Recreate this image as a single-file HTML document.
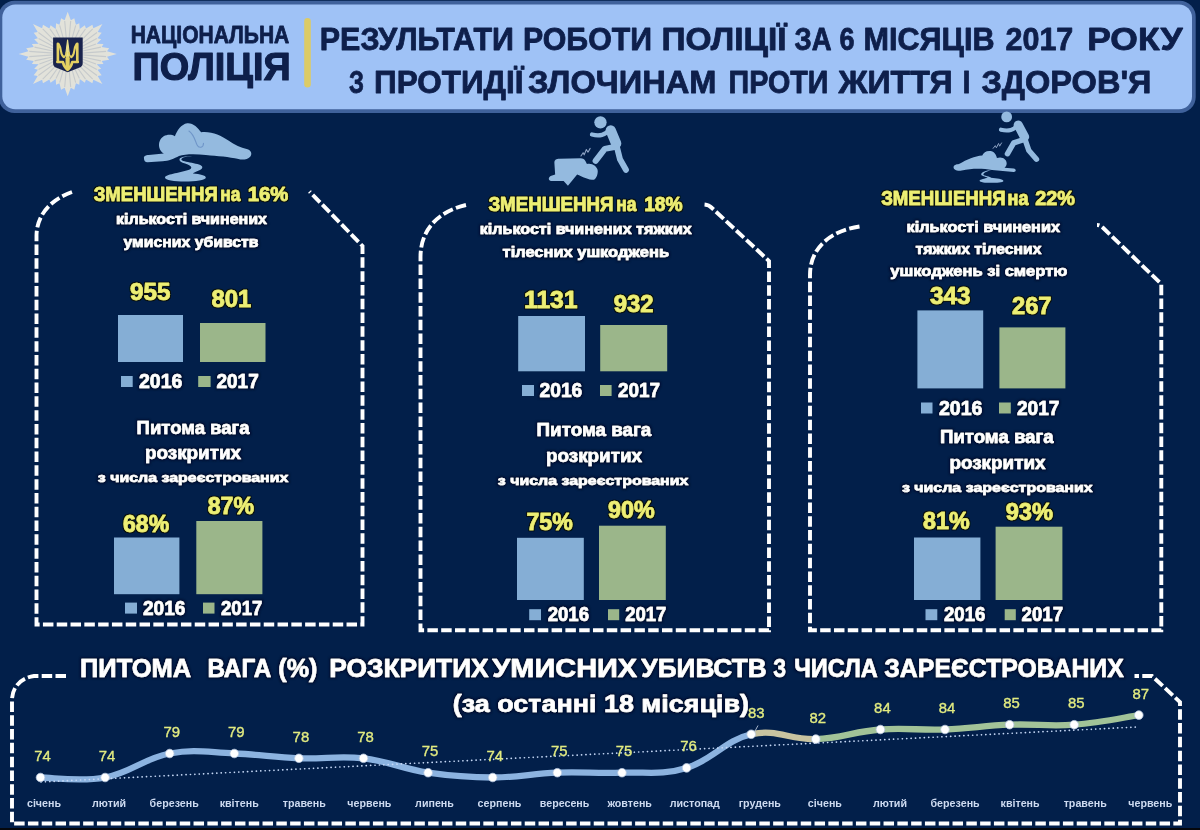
<!DOCTYPE html>
<html lang="uk"><head><meta charset="utf-8"><title>Результати роботи поліції</title>
<style>
html,body{margin:0;padding:0;background:#021f4a;}
#wrap{width:1200px;height:830px;}
body{width:1200px;height:830px;overflow:hidden;}
svg{display:block;font-family:"Liberation Sans", sans-serif;}
.sh{stroke:#fff;stroke-width:.55px;stroke-linejoin:round;filter:url(#hw)}
.shy{stroke:#edef74;stroke-width:.6px;stroke-linejoin:round;filter:url(#hy)}
.bn{stroke:#0e1f4b;stroke-width:.8px;stroke-linejoin:round}
.bn2{stroke:#0e1f4b;stroke-width:1.2px;stroke-linejoin:round}
</style></head><body>
<div id="wrap">
<svg width="1200" height="830" viewBox="0 0 1200 830">
<defs>
<filter id="hy" x="-6%" y="-25%" width="112%" height="150%"><feMorphology in="SourceAlpha" operator="dilate" radius="1.1" result="d"/><feGaussianBlur in="d" stdDeviation="0.7" result="b"/><feFlood flood-color="#0b1204" flood-opacity=".9"/><feComposite in2="b" operator="in" result="h"/><feMerge><feMergeNode in="h"/><feMergeNode in="SourceGraphic"/></feMerge></filter>
<filter id="hw" x="-6%" y="-25%" width="112%" height="150%"><feMorphology in="SourceAlpha" operator="dilate" radius="0.9" result="d"/><feGaussianBlur in="d" stdDeviation="0.8" result="b"/><feFlood flood-color="#000b22" flood-opacity=".8"/><feComposite in2="b" operator="in" result="h"/><feMerge><feMergeNode in="h"/><feMergeNode in="SourceGraphic"/></feMerge></filter>
</defs>
<rect width="1200" height="830" fill="#021f4a"/>
<g style="filter:blur(.4px)">
<rect x="-1.5" y="0.8" width="1197.2" height="112.2" rx="16" ry="16" fill="#3f619b"/>
<rect x="2.3" y="4.5" width="1189.7" height="104.8" rx="13" ry="13" fill="#9fc2f6"/>
<g id="logo">
<polygon points="67.7,11.7 70.8,20.2 74.3,18.3 75.9,24.7 79.3,23.2 79.7,29.0 84.8,25.2 86.0,28.4 92.4,24.7 93.3,28.2 102.4,24.1 97.7,32.0 101.7,32.7 97.5,38.3 101.2,39.3 96.7,43.7 103.5,44.0 101.7,47.0 109.2,48.3 107.0,51.3 116.8,54.0 107.0,56.7 109.2,59.7 101.7,61.0 103.5,64.0 96.7,64.3 101.2,68.7 97.5,69.7 101.7,75.3 97.7,76.0 102.4,83.9 93.3,79.8 92.4,83.3 86.0,79.6 84.8,82.8 79.7,79.0 79.3,84.8 75.9,83.3 74.3,89.7 70.8,87.8 67.7,96.3 64.6,87.8 61.1,89.7 59.5,83.3 56.1,84.8 55.7,79.0 50.6,82.8 49.4,79.6 43.0,83.3 42.1,79.8 33.0,83.9 37.7,76.0 33.7,75.3 37.9,69.7 34.2,68.7 38.7,64.3 31.9,64.0 33.7,61.0 26.2,59.7 28.4,56.7 18.6,54.0 28.4,51.3 26.2,48.3 33.7,47.0 31.9,44.0 38.7,43.7 34.2,39.3 37.9,38.3 33.7,32.7 37.7,32.0 33.0,24.1 42.1,28.2 43.0,24.7 49.4,28.4 50.6,25.2 55.7,29.0 56.1,23.2 59.5,24.7 61.1,18.3 64.6,20.2" fill="#e2e2da"/>
<path d="M68.8 41.9L70.7 21.0M71.0 42.2L75.7 25.4M73.1 42.8L79.4 29.6M75.0 43.7L85.5 28.9M76.8 44.8L92.7 28.8M78.4 46.1L97.0 32.5M79.7 47.7L96.8 38.6M80.7 49.4L96.0 43.9M81.4 51.2L100.9 47.1M81.7 53.1L106.1 51.4M81.7 54.9L106.1 56.6M81.4 56.8L100.9 60.9M80.7 58.6L96.0 64.1M79.7 60.3L96.8 69.4M78.4 61.9L97.0 75.5M76.8 63.2L92.7 79.2M75.0 64.3L85.5 79.1M73.1 65.2L79.4 78.4M71.0 65.8L75.7 82.6M68.8 66.1L70.7 87.0M66.6 66.1L64.7 87.0M64.4 65.8L59.7 82.6M62.3 65.2L56.0 78.4M60.4 64.3L49.9 79.1M58.6 63.2L42.7 79.2M57.0 61.9L38.4 75.5M55.7 60.3L38.6 69.4M54.7 58.6L39.4 64.1M54.0 56.8L34.5 60.9M53.7 54.9L29.3 56.6M53.7 53.1L29.3 51.4M54.0 51.2L34.5 47.1M54.7 49.4L39.4 43.9M55.7 47.7L38.6 38.6M57.0 46.1L38.4 32.5M58.6 44.8L42.7 28.8M60.4 43.7L49.9 28.9M62.3 42.8L56.0 29.6M64.4 42.2L59.7 25.4M66.6 41.9L64.7 21.0" stroke="#c6cacc" stroke-width="1.1" fill="none"/>
<path d="M53.1 37.5 H82.7 V63.5 C82.7 66 81 67 79 67.8 L67.7 72.3 L56.5 67.8 C54.5 67 53.1 66 53.1 63.5 Z" fill="#19234d"/>
<g transform="translate(45,30) scale(0.06024)" fill="none" stroke="#e4d062" stroke-linecap="round" stroke-linejoin="round">
<path d="M214 228 V525 M536 228 V525" stroke-width="44"/>
<path d="M228 235 C285 320 245 410 312 452 M522 235 C465 320 505 410 438 452" stroke-width="34"/>
<path d="M375 165 L402 380 L392 470 L358 470 L348 380 Z" fill="#ece08a" stroke="#ece08a" stroke-width="18"/>
<path d="M205 532 H298 C306 590 338 630 375 662 C412 630 444 590 452 532 H545" stroke-width="42"/>
<path d="M375 470 V640" stroke-width="70"/>
<path d="M312 452 C335 440 350 410 356 375 M438 452 C415 440 400 410 394 375" stroke-width="26"/>
</g>
</g>
<text x="130.7" y="42.7" font-size="23.3" font-weight="bold" fill="#0e1f4b" textLength="158.6" lengthAdjust="spacingAndGlyphs" class="bn">НАЦІОНАЛЬНА</text>
<text x="132.5" y="80" font-size="38.8" font-weight="bold" fill="#0e1f4b" textLength="158.2" lengthAdjust="spacingAndGlyphs" class="bn2">ПОЛІЦІЯ</text>
<rect x="304.2" y="18" width="6.6" height="69.5" rx="3.3" fill="#dccb66"/>
<text x="319.8" y="49.8" font-size="31.2" font-weight="bold" fill="#0e1f4b" textLength="194.2" lengthAdjust="spacingAndGlyphs" class="bn">РЕЗУЛЬТАТИ</text>
<text x="523.0" y="49.8" font-size="31.2" font-weight="bold" fill="#0e1f4b" textLength="129.0" lengthAdjust="spacingAndGlyphs" class="bn">РОБОТИ</text>
<text x="661.5" y="49.8" font-size="31.2" font-weight="bold" fill="#0e1f4b" textLength="125.0" lengthAdjust="spacingAndGlyphs" class="bn">ПОЛІЦІЇ</text>
<text x="794.5" y="49.8" font-size="31.2" font-weight="bold" fill="#0e1f4b" textLength="37.0" lengthAdjust="spacingAndGlyphs" class="bn">ЗА</text>
<text x="839.5" y="49.8" font-size="31.2" font-weight="bold" fill="#0e1f4b" textLength="15.0" lengthAdjust="spacingAndGlyphs" class="bn">6</text>
<text x="863.5" y="49.8" font-size="31.2" font-weight="bold" fill="#0e1f4b" textLength="131.0" lengthAdjust="spacingAndGlyphs" class="bn">МІСЯЦІВ</text>
<text x="1005.5" y="49.8" font-size="31.2" font-weight="bold" fill="#0e1f4b" textLength="67.8" lengthAdjust="spacingAndGlyphs" class="bn">2017</text>
<text x="1087.2" y="49.8" font-size="31.2" font-weight="bold" fill="#0e1f4b" textLength="95.3" lengthAdjust="spacingAndGlyphs" class="bn">РОКУ</text>
<text x="349.0" y="93" font-size="31.2" font-weight="bold" fill="#0e1f4b" textLength="15.0" lengthAdjust="spacingAndGlyphs" class="bn">З</text>
<text x="374.1" y="93" font-size="31.2" font-weight="bold" fill="#0e1f4b" textLength="149.3" lengthAdjust="spacingAndGlyphs" class="bn">ПРОТИДІЇ</text>
<text x="527.9" y="93" font-size="31.2" font-weight="bold" fill="#0e1f4b" textLength="188.6" lengthAdjust="spacingAndGlyphs" class="bn">ЗЛОЧИНАМ</text>
<text x="728.5" y="93" font-size="31.2" font-weight="bold" fill="#0e1f4b" textLength="100.0" lengthAdjust="spacingAndGlyphs" class="bn">ПРОТИ</text>
<text x="838.5" y="93" font-size="31.2" font-weight="bold" fill="#0e1f4b" textLength="114.0" lengthAdjust="spacingAndGlyphs" class="bn">ЖИТТЯ</text>
<text x="962.5" y="93" font-size="31.2" font-weight="bold" fill="#0e1f4b" textLength="8.0" lengthAdjust="spacingAndGlyphs" class="bn">І</text>
<text x="981.5" y="93" font-size="31.2" font-weight="bold" fill="#0e1f4b" textLength="170.0" lengthAdjust="spacingAndGlyphs" class="bn">ЗДОРОВ'Я</text>
<path d="M72 192 C52 199 36.5 214 36.5 236 V624.5 H362.5 V246 L309.5 191.5" fill="none" stroke="#fff" stroke-width="3.9" stroke-dasharray="10.5 3.3"/>
<path d="M466 205 C440 211 420.5 228 420.5 257 V630.3 H769 V261 L712 208 C709 205 706 204.5 703 204.5" fill="none" stroke="#fff" stroke-width="3.9" stroke-dasharray="10.5 3.3"/>
<path d="M859.5 226.5 C830 231 810 248 810 275 V630.3 H1161.3 V284 L1103 227.8 C1101 226 1099.5 225 1097 225" fill="none" stroke="#fff" stroke-width="3.9" stroke-dasharray="10.5 3.3"/>
<path d="M66 676 H34 C20 678 12 688 12 700 V823.5 H1180 V702 L1152 676 H1134.5" fill="none" stroke="#fff" stroke-width="3.9" stroke-dasharray="10.5 3.3"/>
<g transform="translate(130,110) scale(0.11667)" fill="#94badf">
<path d="M120 415 C115 395 135 385 160 385 L290 372 C250 350 240 300 255 265 C275 215 340 200 385 225 C400 180 440 120 490 113 C540 108 580 150 610 190 C700 180 780 220 840 260 C900 300 950 325 1000 335 C1040 345 1050 380 1030 400 C1010 425 960 430 930 420 C850 400 750 395 650 385 C560 375 470 375 420 395 C380 415 330 440 280 440 L150 447 C130 447 120 435 120 415 Z"/>
<path d="M505 180 C550 210 560 270 575 300 C590 330 630 325 630 285" fill="none" stroke="#6f95c8" stroke-width="9" stroke-linecap="round"/>
<path d="M555 395 C500 395 440 405 440 425 C440 450 620 455 620 490 C620 520 540 530 540 545 C600 550 650 560 650 580 C650 600 560 612 470 612 C380 612 300 600 300 578 C300 555 420 540 500 515 C540 500 530 480 490 465 C440 450 420 440 425 420 C430 400 500 392 555 395 Z"/>
</g>
<g transform="translate(530,105) scale(0.1084)" fill="#94badf" stroke="#94badf" stroke-linecap="round" stroke-linejoin="round">
<circle cx="650" cy="160" r="57" stroke="none"/>
<path d="M745 235 L795 355" stroke-width="95" fill="none"/>
<path d="M725 235 C700 275 640 290 572 272" stroke-width="40" fill="none"/>
<path d="M790 385 L690 405 L605 515" stroke-width="55" fill="none"/>
<path d="M800 380 L830 500 L885 598" stroke-width="55" fill="none"/>
<path d="M225 535 C225 505 245 497 270 497 L470 492 C500 492 515 520 525 545 C560 530 625 560 625 610 C625 650 610 680 590 690 C540 690 480 660 435 640 L350 745 L310 700 L195 700 C170 700 165 670 190 655 L232 640 Z" stroke="none"/>
<path d="M470 470 L490 440 L500 460 L520 410 L535 435 L555 400" stroke="#8ea3c4" stroke-width="10" fill="none"/>
</g>
<g transform="translate(940,105) scale(0.1084)" fill="#94badf" stroke="#94badf" stroke-linecap="round" stroke-linejoin="round">
<circle cx="615" cy="110" r="50" stroke="none"/>
<path d="M722 185 L780 295" stroke-width="85" fill="none"/>
<path d="M705 190 C690 230 630 245 562 228" stroke-width="38" fill="none"/>
<path d="M770 320 L680 350 L622 450" stroke-width="50" fill="none"/>
<path d="M785 320 L820 420 L890 500" stroke-width="50" fill="none"/>
<path d="M125 575 C125 555 150 548 175 545 C250 500 320 470 390 465 C400 440 430 420 465 425 C500 430 520 460 525 490 C570 470 620 500 615 545 C612 560 605 572 595 580 L680 585 C705 588 705 615 680 618 L480 600 C400 585 300 580 200 605 C160 612 125 600 125 575 Z" stroke="none"/>
<path d="M470 600 C440 610 400 625 400 640 C400 655 470 655 470 672 C520 675 585 685 585 700 C585 715 520 718 470 718 C420 718 365 712 365 698 C365 685 420 680 440 668 C420 660 380 655 380 638 C380 620 430 605 470 600 Z" stroke="none"/>
<path d="M490 400 L510 375 L520 395 L540 355 L550 380 L568 350" stroke="#8ea3c4" stroke-width="9" fill="none"/>
</g>
<text x="93.7" y="201" font-size="20" font-weight="bold" fill="#edef74" textLength="124.1" lengthAdjust="spacingAndGlyphs" class="shy">ЗМЕНШЕННЯ</text>
<text x="220.2" y="201" font-size="20" font-weight="bold" fill="#edef74" textLength="20.1" lengthAdjust="spacingAndGlyphs" class="shy">на</text>
<text x="247.7" y="201" font-size="20" font-weight="bold" fill="#edef74" textLength="40.6" lengthAdjust="spacingAndGlyphs" class="shy">16%</text>
<text x="116" y="224" font-size="14.2" font-weight="bold" fill="#fff" textLength="151" lengthAdjust="spacingAndGlyphs" class="sh">кількості вчинених</text>
<text x="123.5" y="246.5" font-size="14.2" font-weight="bold" fill="#fff" textLength="135.0" lengthAdjust="spacingAndGlyphs" class="sh">умисних убивств</text>
<text x="130" y="300.2" font-size="24.6" font-weight="bold" fill="#edef74" textLength="40.4" lengthAdjust="spacingAndGlyphs" class="shy">955</text>
<text x="211.6" y="307" font-size="24.6" font-weight="bold" fill="#edef74" textLength="39.8" lengthAdjust="spacingAndGlyphs" class="shy">801</text>
<rect x="118" y="315" width="65" height="47" fill="#85aed5"/>
<rect x="200" y="323" width="65.5" height="39" fill="#9bb68a"/>
<rect x="121" y="376" width="11.7" height="11" fill="#85aed5"/>
<text x="139" y="388" font-size="19.3" font-weight="bold" fill="#fff" textLength="43.3" lengthAdjust="spacingAndGlyphs" class="sh">2016</text>
<rect x="198.2" y="376" width="12.4" height="11" fill="#9bb68a"/>
<text x="216.5" y="388" font-size="19.3" font-weight="bold" fill="#fff" textLength="42.2" lengthAdjust="spacingAndGlyphs" class="sh">2017</text>
<text x="136.6" y="434" font-size="17.9" font-weight="bold" fill="#fff" textLength="113.0" lengthAdjust="spacingAndGlyphs" class="sh">Питома вага</text>
<text x="145" y="459.3" font-size="17.9" font-weight="bold" fill="#fff" textLength="96" lengthAdjust="spacingAndGlyphs" class="sh">розкритих</text>
<text x="97.8" y="481.9" font-size="13.3" font-weight="bold" fill="#fff" textLength="190.6" lengthAdjust="spacingAndGlyphs" class="sh">з числа зареєстрованих</text>
<text x="123" y="532.4" font-size="24.6" font-weight="bold" fill="#edef74" textLength="46.2" lengthAdjust="spacingAndGlyphs" class="shy">68%</text>
<text x="207.7" y="514" font-size="24.6" font-weight="bold" fill="#edef74" textLength="46.3" lengthAdjust="spacingAndGlyphs" class="shy">87%</text>
<rect x="114" y="537.5" width="65.4" height="56.7" fill="#85aed5"/>
<rect x="196.3" y="521" width="66.1" height="73.2" fill="#9bb68a"/>
<rect x="125" y="602.6" width="12" height="11.0" fill="#85aed5"/>
<text x="143" y="614.6" font-size="19.3" font-weight="bold" fill="#fff" textLength="42.3" lengthAdjust="spacingAndGlyphs" class="sh">2016</text>
<rect x="203" y="602.6" width="11.5" height="11.0" fill="#9bb68a"/>
<text x="221" y="614.6" font-size="19.3" font-weight="bold" fill="#fff" textLength="41.3" lengthAdjust="spacingAndGlyphs" class="sh">2017</text>
<text x="488.4" y="211" font-size="20" font-weight="bold" fill="#edef74" textLength="125.0" lengthAdjust="spacingAndGlyphs" class="shy">ЗМЕНШЕННЯ</text>
<text x="616.2" y="211" font-size="20" font-weight="bold" fill="#edef74" textLength="20.2" lengthAdjust="spacingAndGlyphs" class="shy">на</text>
<text x="644.2" y="211" font-size="20" font-weight="bold" fill="#edef74" textLength="38.4" lengthAdjust="spacingAndGlyphs" class="shy">18%</text>
<text x="479.7" y="233.8" font-size="14.2" font-weight="bold" fill="#fff" textLength="212.1" lengthAdjust="spacingAndGlyphs" class="sh">кількості вчинених тяжких</text>
<text x="502.6" y="256.5" font-size="14.2" font-weight="bold" fill="#fff" textLength="166.4" lengthAdjust="spacingAndGlyphs" class="sh">тілесних ушкоджень</text>
<text x="524" y="307.8" font-size="24.6" font-weight="bold" fill="#edef74" textLength="53.6" lengthAdjust="spacingAndGlyphs" class="shy">1131</text>
<text x="613.7" y="311.9" font-size="24.6" font-weight="bold" fill="#edef74" textLength="39.9" lengthAdjust="spacingAndGlyphs" class="shy">932</text>
<rect x="518.2" y="316" width="66.8" height="55.3" fill="#85aed5"/>
<rect x="600.2" y="325" width="67.0" height="46.3" fill="#9bb68a"/>
<rect x="522" y="385" width="12" height="11" fill="#85aed5"/>
<text x="539.6" y="397" font-size="19.3" font-weight="bold" fill="#fff" textLength="42.7" lengthAdjust="spacingAndGlyphs" class="sh">2016</text>
<rect x="600" y="385" width="11.6" height="11" fill="#9bb68a"/>
<text x="618" y="397" font-size="19.3" font-weight="bold" fill="#fff" textLength="42" lengthAdjust="spacingAndGlyphs" class="sh">2017</text>
<text x="536.6" y="435.9" font-size="17.9" font-weight="bold" fill="#fff" textLength="114.7" lengthAdjust="spacingAndGlyphs" class="sh">Питома вага</text>
<text x="546" y="462.2" font-size="17.9" font-weight="bold" fill="#fff" textLength="96" lengthAdjust="spacingAndGlyphs" class="sh">розкритих</text>
<text x="497.8" y="485.2" font-size="13.3" font-weight="bold" fill="#fff" textLength="190.6" lengthAdjust="spacingAndGlyphs" class="sh">з числа зареєстрованих</text>
<text x="526.5" y="530" font-size="24.6" font-weight="bold" fill="#edef74" textLength="46.2" lengthAdjust="spacingAndGlyphs" class="shy">75%</text>
<text x="608" y="518.3" font-size="24.6" font-weight="bold" fill="#edef74" textLength="46.6" lengthAdjust="spacingAndGlyphs" class="shy">90%</text>
<rect x="517" y="537.8" width="66.8" height="62.2" fill="#85aed5"/>
<rect x="599" y="525.7" width="66.8" height="74.3" fill="#9bb68a"/>
<rect x="529.2" y="609.2" width="11.8" height="11.0" fill="#85aed5"/>
<text x="547.7" y="621.2" font-size="19.3" font-weight="bold" fill="#fff" textLength="41.3" lengthAdjust="spacingAndGlyphs" class="sh">2016</text>
<rect x="608" y="609.2" width="11.2" height="11.0" fill="#9bb68a"/>
<text x="625.3" y="621.2" font-size="19.3" font-weight="bold" fill="#fff" textLength="41.1" lengthAdjust="spacingAndGlyphs" class="sh">2017</text>
<text x="881.2" y="204.8" font-size="20" font-weight="bold" fill="#edef74" textLength="124.4" lengthAdjust="spacingAndGlyphs" class="shy">ЗМЕНШЕННЯ</text>
<text x="1007.6" y="204.8" font-size="20" font-weight="bold" fill="#edef74" textLength="20.9" lengthAdjust="spacingAndGlyphs" class="shy">на</text>
<text x="1035.2" y="204.8" font-size="20" font-weight="bold" fill="#edef74" textLength="39.6" lengthAdjust="spacingAndGlyphs" class="shy">22%</text>
<text x="906.6" y="231.9" font-size="14.2" font-weight="bold" fill="#fff" textLength="153.4" lengthAdjust="spacingAndGlyphs" class="sh">кількості вчинених</text>
<text x="915.6" y="254.3" font-size="14.2" font-weight="bold" fill="#fff" textLength="125.8" lengthAdjust="spacingAndGlyphs" class="sh">тяжких тілесних</text>
<text x="890.3" y="276" font-size="14.2" font-weight="bold" fill="#fff" textLength="177.1" lengthAdjust="spacingAndGlyphs" class="sh">ушкоджень зі смертю</text>
<text x="930" y="304.2" font-size="24.6" font-weight="bold" fill="#edef74" textLength="40.5" lengthAdjust="spacingAndGlyphs" class="shy">343</text>
<text x="1012" y="313.8" font-size="24.6" font-weight="bold" fill="#edef74" textLength="39.5" lengthAdjust="spacingAndGlyphs" class="shy">267</text>
<rect x="917.4" y="310.4" width="65.8" height="78.0" fill="#85aed5"/>
<rect x="999.4" y="327.4" width="66.0" height="61.0" fill="#9bb68a"/>
<rect x="921" y="402.5" width="11.5" height="11.0" fill="#85aed5"/>
<text x="939" y="414.5" font-size="19.3" font-weight="bold" fill="#fff" textLength="43.5" lengthAdjust="spacingAndGlyphs" class="sh">2016</text>
<rect x="999" y="402.5" width="11.8" height="11.0" fill="#9bb68a"/>
<text x="1017" y="414.5" font-size="19.3" font-weight="bold" fill="#fff" textLength="42.5" lengthAdjust="spacingAndGlyphs" class="sh">2017</text>
<text x="940" y="443.4" font-size="17.9" font-weight="bold" fill="#fff" textLength="113.6" lengthAdjust="spacingAndGlyphs" class="sh">Питома вага</text>
<text x="949.4" y="469.4" font-size="17.9" font-weight="bold" fill="#fff" textLength="96.1" lengthAdjust="spacingAndGlyphs" class="sh">розкритих</text>
<text x="901.9" y="492.3" font-size="13.3" font-weight="bold" fill="#fff" textLength="190.8" lengthAdjust="spacingAndGlyphs" class="sh">з числа зареєстрованих</text>
<text x="923" y="529.4" font-size="24.6" font-weight="bold" fill="#edef74" textLength="46.6" lengthAdjust="spacingAndGlyphs" class="shy">81%</text>
<text x="1005.7" y="520.3" font-size="24.6" font-weight="bold" fill="#edef74" textLength="47.3" lengthAdjust="spacingAndGlyphs" class="shy">93%</text>
<rect x="914" y="537.5" width="66.4" height="62.5" fill="#85aed5"/>
<rect x="995.6" y="526.7" width="66.8" height="73.3" fill="#9bb68a"/>
<rect x="925.5" y="609.2" width="11.8" height="11.0" fill="#85aed5"/>
<text x="944" y="621.2" font-size="19.3" font-weight="bold" fill="#fff" textLength="41.5" lengthAdjust="spacingAndGlyphs" class="sh">2016</text>
<rect x="1004.7" y="609.2" width="11.1" height="11.0" fill="#9bb68a"/>
<text x="1021.6" y="621.2" font-size="19.3" font-weight="bold" fill="#fff" textLength="41.4" lengthAdjust="spacingAndGlyphs" class="sh">2017</text>
<text x="80.0" y="677" font-size="25.6" font-weight="bold" fill="#fff" textLength="111.2" lengthAdjust="spacingAndGlyphs" class="sh">ПИТОМА</text>
<text x="207.5" y="677" font-size="25.6" font-weight="bold" fill="#fff" textLength="63.7" lengthAdjust="spacingAndGlyphs" class="sh">ВАГА</text>
<text x="278.3" y="677" font-size="25.6" font-weight="bold" fill="#fff" textLength="39.2" lengthAdjust="spacingAndGlyphs" class="sh">(%)</text>
<text x="329.3" y="677" font-size="25.6" font-weight="bold" fill="#fff" textLength="159.4" lengthAdjust="spacingAndGlyphs" class="sh">РОЗКРИТИХ</text>
<text x="492.3" y="677" font-size="25.6" font-weight="bold" fill="#fff" textLength="144.9" lengthAdjust="spacingAndGlyphs" class="sh">УМИСНИХ</text>
<text x="641.3" y="677" font-size="25.6" font-weight="bold" fill="#fff" textLength="125.4" lengthAdjust="spacingAndGlyphs" class="sh">УБИВСТВ</text>
<text x="773.3" y="677" font-size="25.6" font-weight="bold" fill="#fff" textLength="12.9" lengthAdjust="spacingAndGlyphs" class="sh">З</text>
<text x="794.3" y="677" font-size="25.6" font-weight="bold" fill="#fff" textLength="83.4" lengthAdjust="spacingAndGlyphs" class="sh">ЧИСЛА</text>
<text x="884.3" y="677" font-size="25.6" font-weight="bold" fill="#fff" textLength="239.5" lengthAdjust="spacingAndGlyphs" class="sh">ЗАРЕЄСТРОВАНИХ</text>
<text x="452.8" y="711.7" font-size="24.6" font-weight="bold" fill="#fff" textLength="296.2" lengthAdjust="spacingAndGlyphs" class="sh">(за останні 18 місяців)</text>
<path d="M40.5 777.5 C53.4 777.5 79.3 782.3 105.1 777.5 C130.9 772.7 143.9 758.3 169.7 753.5 C195.6 748.7 208.5 752.5 234.3 753.5 C260.2 754.5 273.1 757.3 298.9 758.3 C324.8 759.3 337.7 755.4 363.5 758.3 C389.4 761.2 402.3 768.9 428.1 772.7 C454.0 776.5 466.9 777.5 492.7 777.5 C518.6 777.5 531.5 773.7 557.3 772.7 C583.2 771.7 596.1 773.7 622.0 772.7 C647.8 771.7 660.7 775.6 686.6 767.9 C712.4 760.2 725.3 740.1 751.2 734.3" fill="none" stroke="#8cb3e0" stroke-width="6.3" stroke-linecap="round"/>
<path d="M751.2 734.3 C777.0 728.5 789.9 740.1 815.8 739.1" fill="none" stroke="#c8c3a0" stroke-width="6.3" stroke-linecap="round"/>
<path d="M815.8 739.1 C841.6 738.1 854.5 731.4 880.4 729.5 C906.2 727.6 919.1 730.5 945.0 729.5 C970.8 728.5 983.7 725.7 1009.6 724.7 C1035.4 723.7 1048.4 726.6 1074.2 724.7 C1100.0 722.8 1125.9 717.0 1138.8 715.1" fill="none" stroke="#a2c398" stroke-width="6.3" stroke-linecap="round"/>
<path d="M41 782 L1137 727" stroke="#c6d8f6" stroke-width="1.7" stroke-dasharray="0.1 4.3" stroke-linecap="round" fill="none"/>
<circle cx="40.5" cy="777.5" r="4.3" fill="#fff" stroke="#b8c8e0" stroke-width="0.8"/>
<circle cx="105.1" cy="777.5" r="4.3" fill="#fff" stroke="#b8c8e0" stroke-width="0.8"/>
<circle cx="169.7" cy="753.5" r="4.3" fill="#fff" stroke="#b8c8e0" stroke-width="0.8"/>
<circle cx="234.3" cy="753.5" r="4.3" fill="#fff" stroke="#b8c8e0" stroke-width="0.8"/>
<circle cx="298.9" cy="758.3" r="4.3" fill="#fff" stroke="#b8c8e0" stroke-width="0.8"/>
<circle cx="363.5" cy="758.3" r="4.3" fill="#fff" stroke="#b8c8e0" stroke-width="0.8"/>
<circle cx="428.1" cy="772.7" r="4.3" fill="#fff" stroke="#b8c8e0" stroke-width="0.8"/>
<circle cx="492.7" cy="777.5" r="4.3" fill="#fff" stroke="#b8c8e0" stroke-width="0.8"/>
<circle cx="557.3" cy="772.7" r="4.3" fill="#fff" stroke="#b8c8e0" stroke-width="0.8"/>
<circle cx="622.0" cy="772.7" r="4.3" fill="#fff" stroke="#b8c8e0" stroke-width="0.8"/>
<circle cx="686.6" cy="767.9" r="4.3" fill="#fff" stroke="#b8c8e0" stroke-width="0.8"/>
<circle cx="751.2" cy="734.3" r="4.3" fill="#fff" stroke="#b8c8e0" stroke-width="0.8"/>
<circle cx="815.8" cy="739.1" r="4.3" fill="#fff" stroke="#b8c8e0" stroke-width="0.8"/>
<circle cx="880.4" cy="729.5" r="4.3" fill="#fff" stroke="#b8c8e0" stroke-width="0.8"/>
<circle cx="945.0" cy="729.5" r="4.3" fill="#fff" stroke="#b8c8e0" stroke-width="0.8"/>
<circle cx="1009.6" cy="724.7" r="4.3" fill="#fff" stroke="#b8c8e0" stroke-width="0.8"/>
<circle cx="1074.2" cy="724.7" r="4.3" fill="#fff" stroke="#b8c8e0" stroke-width="0.8"/>
<circle cx="1138.8" cy="715.1" r="4.3" fill="#fff" stroke="#b8c8e0" stroke-width="0.8"/>
<path d="M758 725.5 L754.5 732" stroke="#b8c4d8" stroke-width="0.9" fill="none"/>
<text x="42.5" y="761.0" font-size="14.9" font-weight="normal" fill="#e2eb80" text-anchor="middle" stroke="#e2eb80" stroke-width=".35">74</text>
<text x="44.0" y="806.8" font-size="10.7" font-weight="bold" fill="#cddaf0" text-anchor="middle">січень</text>
<text x="107.1" y="761.0" font-size="14.9" font-weight="normal" fill="#e2eb80" text-anchor="middle" stroke="#e2eb80" stroke-width=".35">74</text>
<text x="109.1" y="806.8" font-size="10.7" font-weight="bold" fill="#cddaf0" text-anchor="middle">лютий</text>
<text x="171.7" y="737.0" font-size="14.9" font-weight="normal" fill="#e2eb80" text-anchor="middle" stroke="#e2eb80" stroke-width=".35">79</text>
<text x="174.2" y="806.8" font-size="10.7" font-weight="bold" fill="#cddaf0" text-anchor="middle">березень</text>
<text x="236.3" y="737.0" font-size="14.9" font-weight="normal" fill="#e2eb80" text-anchor="middle" stroke="#e2eb80" stroke-width=".35">79</text>
<text x="239.2" y="806.8" font-size="10.7" font-weight="bold" fill="#cddaf0" text-anchor="middle">квітень</text>
<text x="300.9" y="741.8" font-size="14.9" font-weight="normal" fill="#e2eb80" text-anchor="middle" stroke="#e2eb80" stroke-width=".35">78</text>
<text x="304.3" y="806.8" font-size="10.7" font-weight="bold" fill="#cddaf0" text-anchor="middle">травень</text>
<text x="365.5" y="741.8" font-size="14.9" font-weight="normal" fill="#e2eb80" text-anchor="middle" stroke="#e2eb80" stroke-width=".35">78</text>
<text x="369.4" y="806.8" font-size="10.7" font-weight="bold" fill="#cddaf0" text-anchor="middle">червень</text>
<text x="430.1" y="756.2" font-size="14.9" font-weight="normal" fill="#e2eb80" text-anchor="middle" stroke="#e2eb80" stroke-width=".35">75</text>
<text x="434.5" y="806.8" font-size="10.7" font-weight="bold" fill="#cddaf0" text-anchor="middle">липень</text>
<text x="494.7" y="761.0" font-size="14.9" font-weight="normal" fill="#e2eb80" text-anchor="middle" stroke="#e2eb80" stroke-width=".35">74</text>
<text x="499.5" y="806.8" font-size="10.7" font-weight="bold" fill="#cddaf0" text-anchor="middle">серпень</text>
<text x="559.3" y="756.2" font-size="14.9" font-weight="normal" fill="#e2eb80" text-anchor="middle" stroke="#e2eb80" stroke-width=".35">75</text>
<text x="564.6" y="806.8" font-size="10.7" font-weight="bold" fill="#cddaf0" text-anchor="middle">вересень</text>
<text x="624.0" y="756.2" font-size="14.9" font-weight="normal" fill="#e2eb80" text-anchor="middle" stroke="#e2eb80" stroke-width=".35">75</text>
<text x="629.7" y="806.8" font-size="10.7" font-weight="bold" fill="#cddaf0" text-anchor="middle">жовтень</text>
<text x="688.6" y="751.4" font-size="14.9" font-weight="normal" fill="#e2eb80" text-anchor="middle" stroke="#e2eb80" stroke-width=".35">76</text>
<text x="694.8" y="806.8" font-size="10.7" font-weight="bold" fill="#cddaf0" text-anchor="middle">листопад</text>
<text x="756.2" y="717.8" font-size="14.9" font-weight="normal" fill="#e2eb80" text-anchor="middle" stroke="#e2eb80" stroke-width=".35">83</text>
<text x="759.8" y="806.8" font-size="10.7" font-weight="bold" fill="#cddaf0" text-anchor="middle">грудень</text>
<text x="817.8" y="722.6" font-size="14.9" font-weight="normal" fill="#e2eb80" text-anchor="middle" stroke="#e2eb80" stroke-width=".35">82</text>
<text x="824.9" y="806.8" font-size="10.7" font-weight="bold" fill="#cddaf0" text-anchor="middle">січень</text>
<text x="882.4" y="713.0" font-size="14.9" font-weight="normal" fill="#e2eb80" text-anchor="middle" stroke="#e2eb80" stroke-width=".35">84</text>
<text x="890.0" y="806.8" font-size="10.7" font-weight="bold" fill="#cddaf0" text-anchor="middle">лютий</text>
<text x="947.0" y="713.0" font-size="14.9" font-weight="normal" fill="#e2eb80" text-anchor="middle" stroke="#e2eb80" stroke-width=".35">84</text>
<text x="955.1" y="806.8" font-size="10.7" font-weight="bold" fill="#cddaf0" text-anchor="middle">березень</text>
<text x="1011.6" y="708.2" font-size="14.9" font-weight="normal" fill="#e2eb80" text-anchor="middle" stroke="#e2eb80" stroke-width=".35">85</text>
<text x="1020.1" y="806.8" font-size="10.7" font-weight="bold" fill="#cddaf0" text-anchor="middle">квітень</text>
<text x="1076.2" y="708.2" font-size="14.9" font-weight="normal" fill="#e2eb80" text-anchor="middle" stroke="#e2eb80" stroke-width=".35">85</text>
<text x="1085.2" y="806.8" font-size="10.7" font-weight="bold" fill="#cddaf0" text-anchor="middle">травень</text>
<text x="1140.8" y="698.6" font-size="14.9" font-weight="normal" fill="#e2eb80" text-anchor="middle" stroke="#e2eb80" stroke-width=".35">87</text>
<text x="1150.3" y="806.8" font-size="10.7" font-weight="bold" fill="#cddaf0" text-anchor="middle">червень</text>
<rect x="0" y="828" width="1200" height="2" fill="#05070c"/>
</g>
</svg>
</div>
</body></html>
